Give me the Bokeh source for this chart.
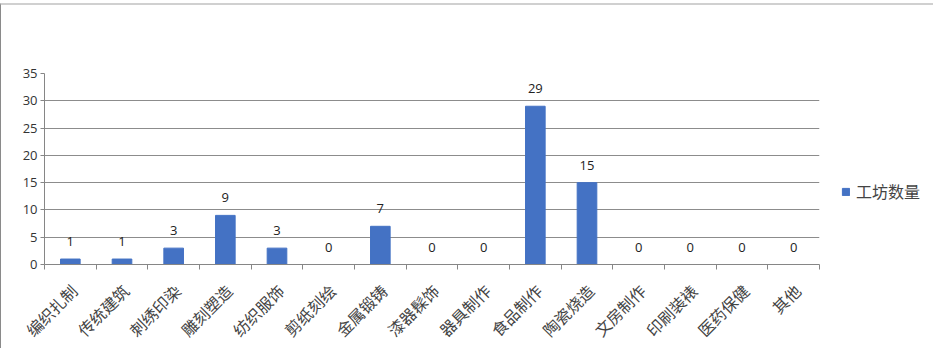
from bokeh.plotting import figure
from bokeh.models import (ColumnDataSource, Range1d, FixedTicker, Legend, LegendItem)
from bokeh.embed import file_html
from bokeh.resources import INLINE
from bokeh.core.properties import value
import math

categories = ["编织扎制", "传统建筑", "刺绣印染", "雕刻塑造", "纺织服饰", "剪纸刻绘", "金属锻铸",
              "漆器髹饰", "器具制作", "食品制作", "陶瓷烧造", "文房制作", "印刷装裱", "医药保健", "其他"]
counts = [1, 1, 3, 9, 3, 0, 7, 0, 0, 29, 15, 0, 0, 0, 0]
series_name = "工坊数量"
y_ticks = [0, 5, 10, 15, 20, 25, 30, 35]

n = len(categories)
centers = [i + 0.5 for i in range(n)]
label_pos = [i + 0.57 for i in range(n)]
bounds = [i for i in range(n + 1)]

src = ColumnDataSource(dict(x=centers, top=counts, label=[str(c) for c in counts]))

p = figure(frame_width=775, frame_height=191, output_backend="svg", toolbar_location=None,
           x_range=Range1d(0, n), y_range=Range1d(0, 35),
           min_border_left=43, min_border_right=10, min_border_top=68, min_border_bottom=84)
p.styles = {"border-top": "2px solid #d0d0d0", "border-left": "1px solid #8a8a8a",
            "margin-top": "3px"}
p.outline_line_color = None
p.background_fill_color = "white"
p.border_fill_color = "white"

bars = p.vbar(x="x", top="top", width=0.38, bottom=0, source=src, color="#4472C4")
p.text(x="x", y="top", text="label", source=src, text_align="center", text_baseline="bottom",
       y_offset=-13, text_font=value("Open Sans"), text_font_size="13px", text_color="#222222")

# x axis
p.xaxis.ticker = FixedTicker(ticks=label_pos, minor_ticks=bounds)
p.xaxis.major_label_overrides = {c: lab for c, lab in zip(label_pos, categories)}
p.xaxis.major_tick_out = 0
p.xaxis.major_tick_in = 0
p.xaxis.minor_tick_out = 5
p.xaxis.minor_tick_in = 0
p.xaxis.minor_tick_line_color = "#868686"
p.xaxis.axis_line_color = "#868686"
p.xaxis.major_label_orientation = math.pi / 4
p.xaxis.major_label_text_font = "Noto Sans CJK SC"
p.xaxis.major_label_text_font_size = "16px"
p.xaxis.major_label_text_color = "#444444"
p.xaxis.major_label_standoff = 18

# y axis
p.yaxis.ticker = FixedTicker(ticks=y_ticks)
p.yaxis.minor_tick_line_color = None
p.yaxis.major_tick_out = 4
p.yaxis.major_tick_in = 0
p.yaxis.major_tick_line_color = "#868686"
p.yaxis.axis_line_color = "#868686"
p.yaxis.major_label_text_font = "Open Sans"
p.yaxis.major_label_text_font_size = "13px"
p.yaxis.major_label_text_color = "#333333"
p.yaxis.major_label_standoff = 3

p.xgrid.grid_line_color = None
p.ygrid.ticker = FixedTicker(ticks=y_ticks)
p.ygrid.grid_line_color = "#8c8c8c"
p.ygrid.grid_line_width = 1

legend = Legend(items=[LegendItem(label=series_name, renderers=[bars])],
                location=(22, 61), border_line_color=None, background_fill_alpha=0,
                glyph_width=9, glyph_height=9, label_text_font="Noto Sans CJK SC",
                label_text_font_size="16px", label_text_color="#444444", padding=2, spacing=0,
                label_standoff=6, margin=0)
p.add_layout(legend, "right")

open("out.html", "w").write(file_html(p, INLINE))
